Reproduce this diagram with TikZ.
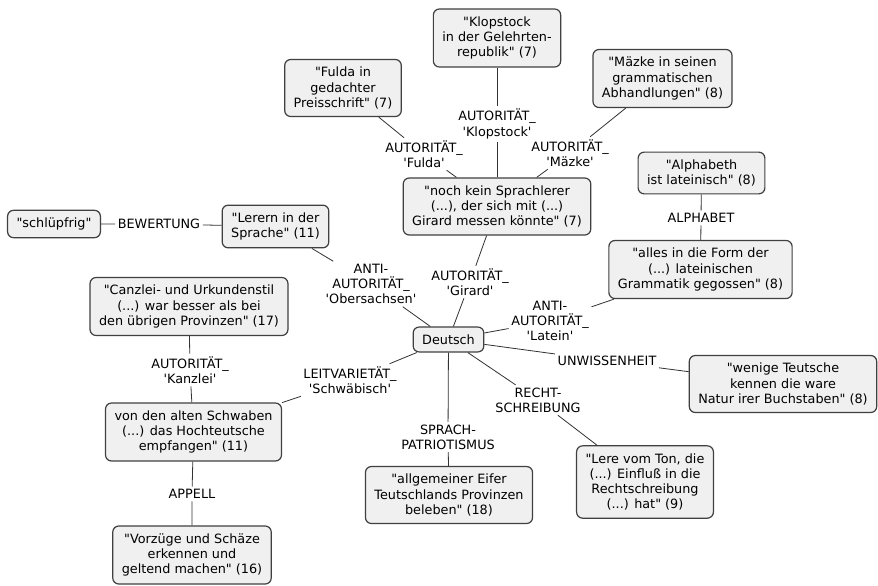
\documentclass[tikz,border=0pt]{standalone}
\usepackage{fontspec}
\setmainfont{DejaVu Sans}
\usetikzlibrary{positioning}
\definecolor{cmapFill}{RGB}{240,240,240}
\definecolor{cmapEdge}{RGB}{64,64,64}
\definecolor{cmapLink}{RGB}{50,50,50}
\newcommand{\cmq}{\textquotesingle}
\newcommand{\cmqq}{\textquotedbl}

\tikzset{
  concept/.style={draw=cmapEdge, fill=cmapFill, line width=1.2pt, rounded corners=6pt,
    align=center, inner xsep=9pt, inner ysep=7.5pt,
    font=\fontsize{12.8}{15.3}\selectfont},
  linkword/.style={align=center, inner sep=2.5pt, font=\fontsize{12.8}{15.3}\selectfont},
  link/.style={draw=cmapLink, line width=0.8pt}
}

\begin{document}
\begin{tikzpicture}[x=1pt, y=-1pt]
  \useasboundingbox (0,0) rectangle (878,586);
  \fill[white] (0,0) rectangle (878,586);

  % concepts
  \node[concept] (deutsch) at (448.5,339.5) {Deutsch};
  \node[concept] (sprachlerer) at (497,206.5) {\cmqq noch kein Sprachlerer\\(...), der sich mit (...)\\Girard messen könnte\cmqq{} (7)};
  \node[concept] (klopstock) at (497,38) {\cmqq Klopstock\\in der Gelehrten-\\republik\cmqq{} (7)};
  \node[concept] (fulda) at (343,88) {\cmqq Fulda in\\gedachter\\Preisschrift\cmqq{} (7)};
  \node[concept] (maezke) at (662.5,78.5) {\cmqq Mäzke in seinen\\grammatischen\\Abhandlungen\cmqq{} (8)};
  \node[concept] (alphabeth) at (701.5,173) {\cmqq Alphabeth\\ist lateinisch\cmqq{} (8)};
  \node[concept] (alles) at (700.5,269.5) {\cmqq alles in die Form der\\(...) lateinischen\\Grammatik gegossen\cmqq{} (8)};
  \node[concept] (schluepfrig) at (54,224) {\cmqq schlüpfrig\cmqq};
  \node[concept] (lerern) at (275.5,226.5) {\cmqq Lerern in der\\Sprache\cmqq{} (11)};
  \node[concept] (canzlei) at (189,306.5) {\cmqq Canzlei- und Urkundenstil\\(...) war besser als bei\\den übrigen Provinzen\cmqq{} (17)};
  \node[concept] (schwaben) at (193.5,432) {von den alten Schwaben\\(...) das Hochteutsche\\empfangen\cmqq{} (11)};
  \node[concept] (vorzuege) at (192,555) {\cmqq Vorzüge und Schäze\\erkennen und\\geltend machen\cmqq{} (16)};
  \node[concept] (eifer) at (449,495) {\cmqq allgemeiner Eifer\\Teutschlands Provinzen\\beleben\cmqq{} (18)};
  \node[concept] (wenige) at (783,384) {\cmqq wenige Teutsche\\kennen die ware\\Natur irer Buchstaben\cmqq{} (8)};
  \node[concept] (lereton) at (645,482) {\cmqq Lere vom Ton, die\\(...) Einfluß in die\\Rechtschreibung\\(...) hat\cmqq{} (9)};

  % linking words
  \node[linkword] (lKlopstock) at (497,124) {AUTORITÄT\_\\\cmq Klopstock\cmq};
  \node[linkword] (lFulda) at (424,154) {AUTORITÄT\_\\\cmq Fulda\cmq};
  \node[linkword] (lMaezke) at (570,153) {AUTORITÄT\_\\\cmq Mäzke\cmq};
  \node[linkword] (lGirard) at (470,282) {AUTORITÄT\_\\\cmq Girard\cmq};
  \node[linkword] (lAlphabet) at (701,218) {ALPHABET};
  \node[linkword] (lObersachsen) at (371,284) {ANTI-\\AUTORITÄT\_\\\cmq Obersachsen\cmq};
  \node[linkword] (lLatein) at (550,321) {ANTI-\\AUTORITÄT\_\\\cmq Latein\cmq};
  \node[linkword] (lUnwissen) at (607,361) {UNWISSENHEIT};
  \node[linkword] (lRecht) at (538,400) {RECHT-\\SCHREIBUNG};
  \node[linkword] (lSprach) at (448,437) {SPRACH-\\PATRIOTISMUS};
  \node[linkword] (lSchwaebisch) at (350,380) {LEITVARIETÄT\_\\\cmq Schwäbisch\cmq};
  \node[linkword] (lKanzlei) at (190,370) {AUTORITÄT\_\\\cmq Kanzlei\cmq};
  \node[linkword] (lAppell) at (192,494) {APPELL};
  \node[linkword] (lBewertung) at (159,224) {BEWERTUNG};

  % connectors
  \foreach \from/\via/\to in {klopstock/lKlopstock/sprachlerer, fulda/lFulda/sprachlerer,
      maezke/lMaezke/sprachlerer, sprachlerer/lGirard/deutsch, alphabeth/lAlphabet/alles,
      lerern/lObersachsen/deutsch, alles/lLatein/deutsch, deutsch/lUnwissen/wenige,
      deutsch/lRecht/lereton, deutsch/lSprach/eifer, schwaben/lSchwaebisch/deutsch,
      canzlei/lKanzlei/schwaben, schwaben/lAppell/vorzuege, schluepfrig/lBewertung/lerern}
    \draw[link] (\from) -- (\via) (\via) -- (\to);
\end{tikzpicture}
\end{document}
